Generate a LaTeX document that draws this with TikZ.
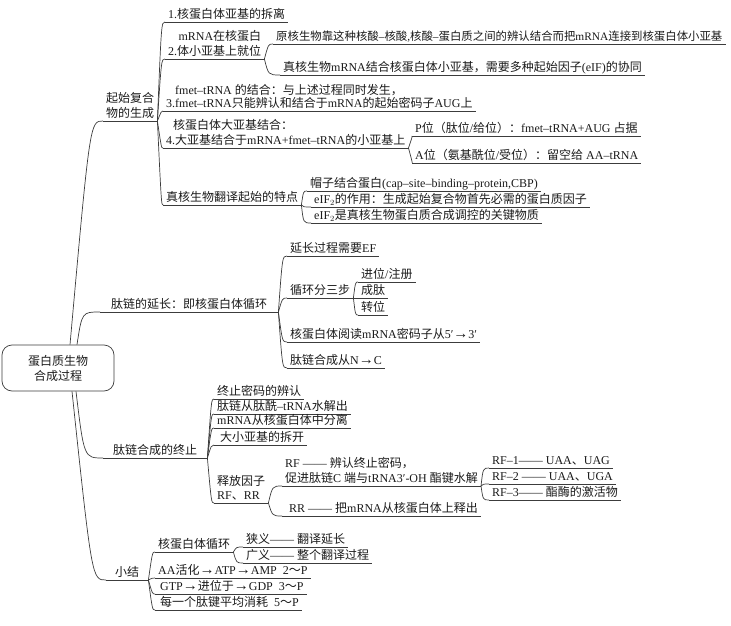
\documentclass[tikz,border=0pt]{standalone}
\usepackage{fontspec}
\setmainfont{Liberation Serif}
\newfontfamily\latinfont{Liberation Serif}
\newfontfamily\cjkfont{Noto Sans CJK SC}
\usetikzlibrary{calc}
\definecolor{Ink}{HTML}{1A1A1A}
% switch to the CJK face for Chinese characters
\XeTeXinterchartokenstate=1
\newXeTeXintercharclass\CJKclass
\newcount\cjkcode
\def\setcjkrange#1#2{\cjkcode=#1\relax
  \loop\XeTeXcharclass\cjkcode=\CJKclass
  \ifnum\cjkcode<#2\advance\cjkcode by 1\repeat}
\setcjkrange{"3000}{"303F}
\setcjkrange{"4E00}{"9FFF}
\setcjkrange{"FF00}{"FFEF}
\XeTeXinterchartoks 0 \CJKclass={\cjkfont}
\XeTeXinterchartoks 4095 \CJKclass={\cjkfont}
\XeTeXinterchartoks \CJKclass 0={\latinfont}
\XeTeXinterchartoks \CJKclass 4095={\latinfont}
\newcommand{\arr}{{\fontsize{15}{15}\selectfont\bfseries →}}
\tikzset{
  link/.style={draw=Ink!85,line width=0.7pt},
  twig/.style={to path={let \p1=(\tikztostart),\p2=(\tikztotarget) in
    .. controls (\x1+#1,\y2) .. (\tikztotarget)}},
  twig/.default=4pt,
  topic/.style={anchor=south west,inner xsep=3pt,inner ysep=1pt,text depth=2.5pt,
    align=left,font=\fontsize{12}{15}\selectfont,text=Ink,
    append after command={(\tikzlastnode.south west) edge[link] (\tikzlastnode.south east)}},
  core/.style={draw=Ink!85,line width=0.7pt,rounded corners=10pt,minimum width=112pt,
    minimum height=46pt,align=center,font=\fontsize{12}{15}\selectfont,text=Ink}
}
\begin{document}
\begin{tikzpicture}[x=1pt,y=-1pt]
\useasboundingbox (0,0) rectangle (731,626);
\node[core] (core) at (58,368) {蛋白质生物\\合成过程};
% main branches
\node[topic,align=center] (init) at (103,121) {起始复合\\物的生成};
\node[topic,align=center,minimum width=178pt] (elong) at (100,312) {肽链的延长：即核蛋白体循环};
\node[topic,align=center,minimum width=104pt] (term) at (103,458) {肽链合成的终止};
\node[topic,align=center,minimum width=42pt] (summ) at (106,580) {小结};
% initiation
\node[topic] (init1) at (165,22) {1.核蛋白体亚基的拆离};
\node[topic,align=right] (init2) at (165,59) {mRNA在核蛋白\\2.体小亚基上就位};
\node[topic,font=\fontsize{12}{12.5}\selectfont] (init3) at (163,111) {\hspace*{9pt}fmet–tRNA 的结合：与上述过程同时发生，\\3.fmet–tRNA只能辨认和结合于mRNA的起始密码子AUG上};
\node[topic] (init4) at (163,148) {\hspace*{7pt}核蛋白体大亚基结合：\\4.大亚基结合于mRNA+fmet–tRNA的小亚基上};
\node[topic] (init5) at (163,205) {真核生物翻译起始的特点};
\node[topic,font=\fontsize{11.4}{14}\selectfont] (init2a) at (273,44) {原核生物靠这种核酸–核酸,核酸–蛋白质之间的辨认结合而把mRNA连接到核蛋白体小亚基};
\node[topic] (init2b) at (280,75) {真核生物mRNA结合核蛋白体小亚基，需要多种起始因子(eIF)的协同};
\node[topic] (init4p) at (412,136) {P位（肽位/给位）：fmet–tRNA+AUG 占据};
\node[topic] (init4a) at (412,163) {A位（氨基酰位/受位）：留空给 AA–tRNA};
\node[topic] (init5a) at (307,191) {帽子结合蛋白(cap–site–binding–protein,CBP)};
\node[topic] (init5b) at (311,207) {eIF$_2$的作用：生成起始复合物首先必需的蛋白质因子};
\node[topic] (init5c) at (311,223) {eIF$_2$是真核生物蛋白质合成调控的关键物质};
% elongation
\node[topic] (elong1) at (287,256) {延长过程需要EF};
\node[topic] (elong2) at (287,298) {循环分三步};
\node[topic] (elong3) at (287,342) {核蛋白体阅读mRNA密码子从5′\arr3′};
\node[topic] (elong4) at (287,368) {肽链合成从N\arr C};
\node[topic] (elong2a) at (358,282) {进位/注册};
\node[topic] (elong2b) at (358,298) {成肽};
\node[topic] (elong2c) at (358,315) {转位};
% termination
\node[topic] (term1) at (214,399) {终止密码的辨认};
\node[topic] (term2) at (214,414) {肽链从肽酰–tRNA水解出};
\node[topic] (term3) at (214,428) {mRNA从核蛋白体中分离};
\node[topic] (term4) at (214,445) {\hspace*{3pt}大小亚基的拆开};
\node[topic,font=\fontsize{12}{13.5}\selectfont] (term5) at (214,503) {释放因子\\RF、RR};
\node[topic] (term5a) at (282,486) {RF —— 辨认终止密码，\\促进肽链C 端与tRNA3′-OH 酯键水解};
\node[topic] (term5b) at (282,516) {\hspace*{4pt}RR —— 把mRNA从核蛋白体上释出};
\node[topic] (term5a1) at (489,468) {RF–1—— UAA、UAG};
\node[topic] (term5a2) at (489,484) {RF–2 —— UAA、UGA};
\node[topic] (term5a3) at (489,500) {RF–3—— 酯酶的激活物};
% summary
\node[topic] (summ1) at (155,552) {核蛋白体循环};
\node[topic] (summ2) at (155,578) {AA活化\arr ATP\arr AMP\ \ 2～P};
\node[topic] (summ3) at (155,594) {\hspace*{2pt}GTP\arr 进位于\arr GDP\ \ 3～P};
\node[topic] (summ4) at (155,610) {\hspace*{2pt}每一个肽键平均消耗\ \ 5～P};
\node[topic] (summ1a) at (243,547) {狭义—— 翻译延长};
\node[topic] (summ1b) at (243,563) {广义—— 整个翻译过程};
% connectors
\draw[link] ([xshift=12pt]core.north) to[twig=20pt] (init.south west);
\draw[link] ([xshift=19pt]core.north) to[twig=5pt] (elong.south west);
\draw[link] ([xshift=18pt]core.south) to[twig=8pt] (term.south west);
\draw[link] ([xshift=14pt]core.south) to[twig=20pt] (summ.south west);
\draw[link] (init.south east) to[twig] (init1.south west);
\draw[link] (init.south east) to[twig] (init2.south west);
\draw[link] (init.south east) to[twig] (init3.south west);
\draw[link] (init.south east) to[twig] (init4.south west);
\draw[link] (init.south east) to[twig] (init5.south west);
\draw[link] (init2.south east) to[twig] (init2a.south west);
\draw[link] (init2.south east) to[twig] (init2b.south west);
\draw[link] (init4.south east) to[twig] (init4p.south west);
\draw[link] (init4.south east) to[twig] (init4a.south west);
\draw[link] (init5.south east) to[twig=2pt] (init5a.south west);
\draw[link] (init5.south east) to[twig=2pt] (init5b.south west);
\draw[link] (init5.south east) to[twig=2pt] (init5c.south west);
\draw[link] (elong.south east) to[twig] (elong1.south west);
\draw[link] (elong.south east) to[twig] (elong2.south west);
\draw[link] (elong.south east) to[twig] (elong3.south west);
\draw[link] (elong.south east) to[twig] (elong4.south west);
\draw[link] (elong2.south east) to[twig=2pt] (elong2a.south west);
\draw[link] (elong2.south east) to[twig=2pt] (elong2b.south west);
\draw[link] (elong2.south east) to[twig=2pt] (elong2c.south west);
\draw[link] (term.south east) to[twig] (term1.south west);
\draw[link] (term.south east) to[twig] (term2.south west);
\draw[link] (term.south east) to[twig] (term3.south west);
\draw[link] (term.south east) to[twig] (term4.south west);
\draw[link] (term.south east) to[twig] (term5.south west);
\draw[link] (term5.south east) to[twig] (term5a.south west);
\draw[link] (term5.south east) to[twig] (term5b.south west);
\draw[link] (term5a.south east) to[twig=2pt] (term5a1.south west);
\draw[link] (term5a.south east) to[twig=2pt] (term5a2.south west);
\draw[link] (term5a.south east) to[twig=2pt] (term5a3.south west);
\draw[link] (summ.south east) to[twig] (summ1.south west);
\draw[link] (summ.south east) to[twig] (summ2.south west);
\draw[link] (summ.south east) to[twig] (summ3.south west);
\draw[link] (summ.south east) to[twig] (summ4.south west);
\draw[link] (summ1.south east) to[twig=3pt] (summ1a.south west);
\draw[link] (summ1.south east) to[twig=3pt] (summ1b.south west);
\end{tikzpicture}
\end{document}
